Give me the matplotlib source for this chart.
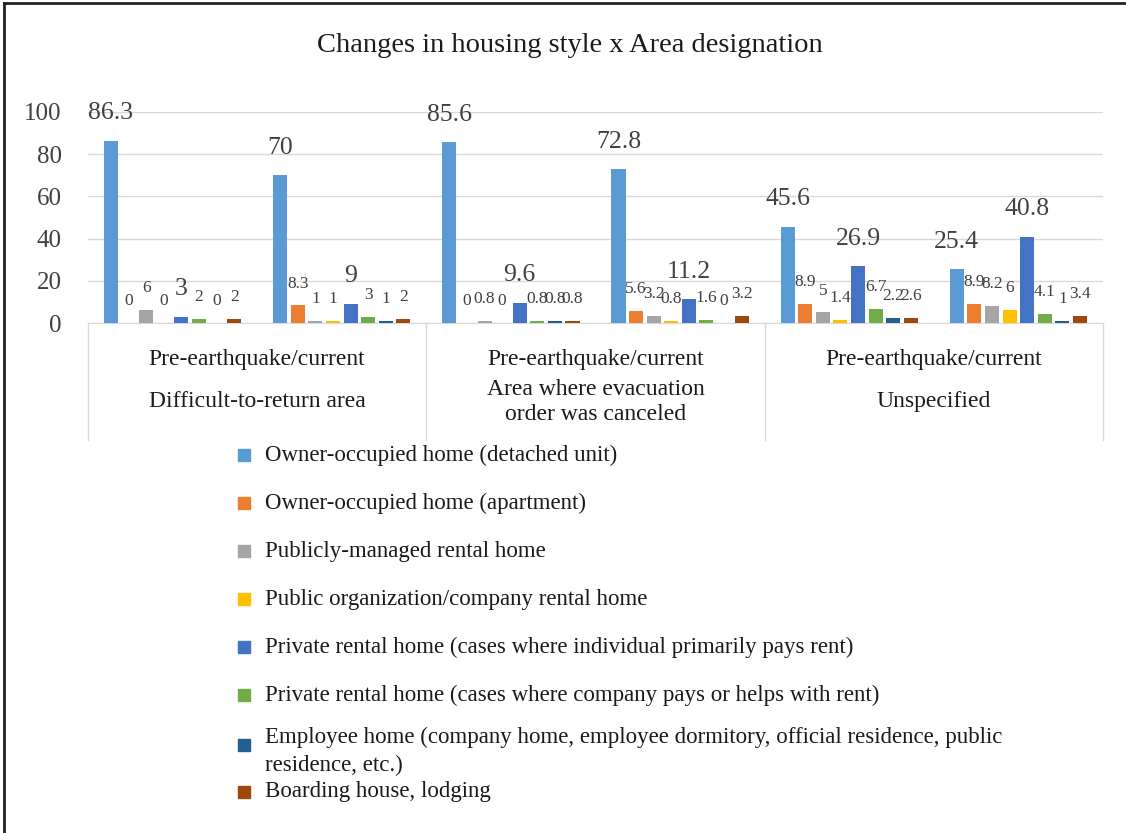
import matplotlib
matplotlib.use('Agg')
import matplotlib.pyplot as plt
import numpy as np
from matplotlib.patches import Rectangle
from matplotlib.lines import Line2D
from matplotlib.transforms import blended_transform_factory

# data
series_names = [
    'Owner-occupied home (detached unit)',
    'Owner-occupied home (apartment)',
    'Publicly-managed rental home',
    'Public organization/company rental home',
    'Private rental home (cases where individual primarily pays rent)',
    'Private rental home (cases where company pays or helps with rent)',
    'Employee home (company home, employee dormitory, official residence, public\nresidence, etc.)',
    'Boarding house, lodging',
]
colors = ['#5B9BD5', '#ED7D31', '#A5A5A5', '#FFC000', '#4472C4', '#70AD47', '#255E91', '#9E480E']

# one list per group: difficult pre / current, canceled pre / current, unspecified pre / current
difficult_pre = [86.3, 0, 6, 0, 3, 2, 0, 2]
difficult_now = [70, 8.3, 1, 1, 9, 3, 1, 2]
canceled_pre = [85.6, 0, 0.8, 0, 9.6, 0.8, 0.8, 0.8]
canceled_now = [72.8, 5.6, 3.2, 0.8, 11.2, 1.6, 0, 3.2]
unspecified_pre = [45.6, 8.9, 5, 1.4, 26.9, 6.7, 2.2, 2.6]
unspecified_now = [25.4, 8.9, 8.2, 6, 40.8, 4.1, 1, 3.4]
groups = [difficult_pre, difficult_now, canceled_pre, canceled_now, unspecified_pre, unspecified_now]

period_label = 'Pre-earthquake/current'
area_names = ['Difficult-to-return area', 'Area where evacuation\norder was canceled', 'Unspecified']
yticks = [0, 20, 40, 60, 80, 100]

plt.rcParams['font.family'] = ['Liberation Serif', 'DejaVu Serif']

W, H = 1126, 833
fig = plt.figure(figsize=(W / 100, H / 100), dpi=100)
ax = fig.add_axes([88 / W, 1 - 323 / H, (1103 - 88) / W, (323 - 112) / H])

vals = np.array(groups)  # shape (6 groups, 8 series)
x = np.arange(len(groups))
pitch = 0.104
width = 0.083
for k in range(len(series_names)):
    pos = x + (k - 3.5) * pitch
    bars = ax.bar(pos, vals[:, k], width, color=colors[k], zorder=3)
    big = k in (0, 4)
    for b, v in zip(bars, vals[:, k]):
        ax.annotate(f'{v:g}', (b.get_x() + b.get_width() / 2, b.get_height()),
                    xytext=(0, 12 if big else 10), textcoords='offset points',
                    ha='center', va='bottom',
                    fontsize=18.5 if big else 12.5, color='#404040')

ax.set_xlim(-0.5, 5.5)
ax.set_ylim(0, 100)
ax.set_yticks(yticks)
ax.set_xticks([])
ax.yaxis.grid(True, color='#D9D9D9', lw=1, zorder=0)
for s in ['top', 'right', 'left']:
    ax.spines[s].set_visible(False)
ax.spines['bottom'].set_color('#D9D9D9')
ax.tick_params(axis='y', length=0, pad=19, labelsize=18, labelcolor='#404040')

# category table below the axis
tr = ax.get_xaxis_transform()
for xv in [-0.5, 1.5, 3.5, 5.5]:
    ax.add_line(Line2D([xv, xv], [0, -117 / 211], transform=tr, color='#D9D9D9', lw=1, clip_on=False))
trf = blended_transform_factory(ax.transData, fig.transFigure)
for i, name in enumerate(area_names):
    ax.text(2 * i + 0.5, 1 - 360 / H, period_label, transform=trf, ha='center', va='center',
            fontsize=17, color='#1a1a1a')
    ax.text(2 * i + 0.5, 1 - 402 / H, name, transform=trf, ha='center', va='center',
            fontsize=17, linespacing=1.2, color='#1a1a1a')

fig.text(570 / W, 1 - 46 / H, 'Changes in housing style x Area designation',
         ha='center', va='center', fontsize=20.5, color='#1a1a1a')

# legend drawn by hand
leg_y = [455, 503, 551, 599, 647, 695, 745, 792]
for k, name in enumerate(series_names):
    y = leg_y[k]
    fig.patches.append(Rectangle((238 / W, 1 - (y + 6) / H), 12 / W, 12 / H,
                                 transform=fig.transFigure, color=colors[k], figure=fig))
    if '\n' in name:
        fig.text(265 / W, 1 - 727 / H, name, ha='left', va='top', fontsize=16.5,
                 linespacing=1.4, color='#1a1a1a')
    else:
        fig.text(265 / W, 1 - y / H, name, ha='left', va='center', fontsize=16.5, color='#1a1a1a')

# outer frame
fig.add_artist(Line2D([4 / W, 1], [1 - 3 / H, 1 - 3 / H], transform=fig.transFigure, color='#222222', lw=2))
fig.add_artist(Line2D([4 / W, 4 / W], [0, 1 - 3 / H], transform=fig.transFigure, color='#222222', lw=2))

fig.savefig('out.png', dpi=100)
